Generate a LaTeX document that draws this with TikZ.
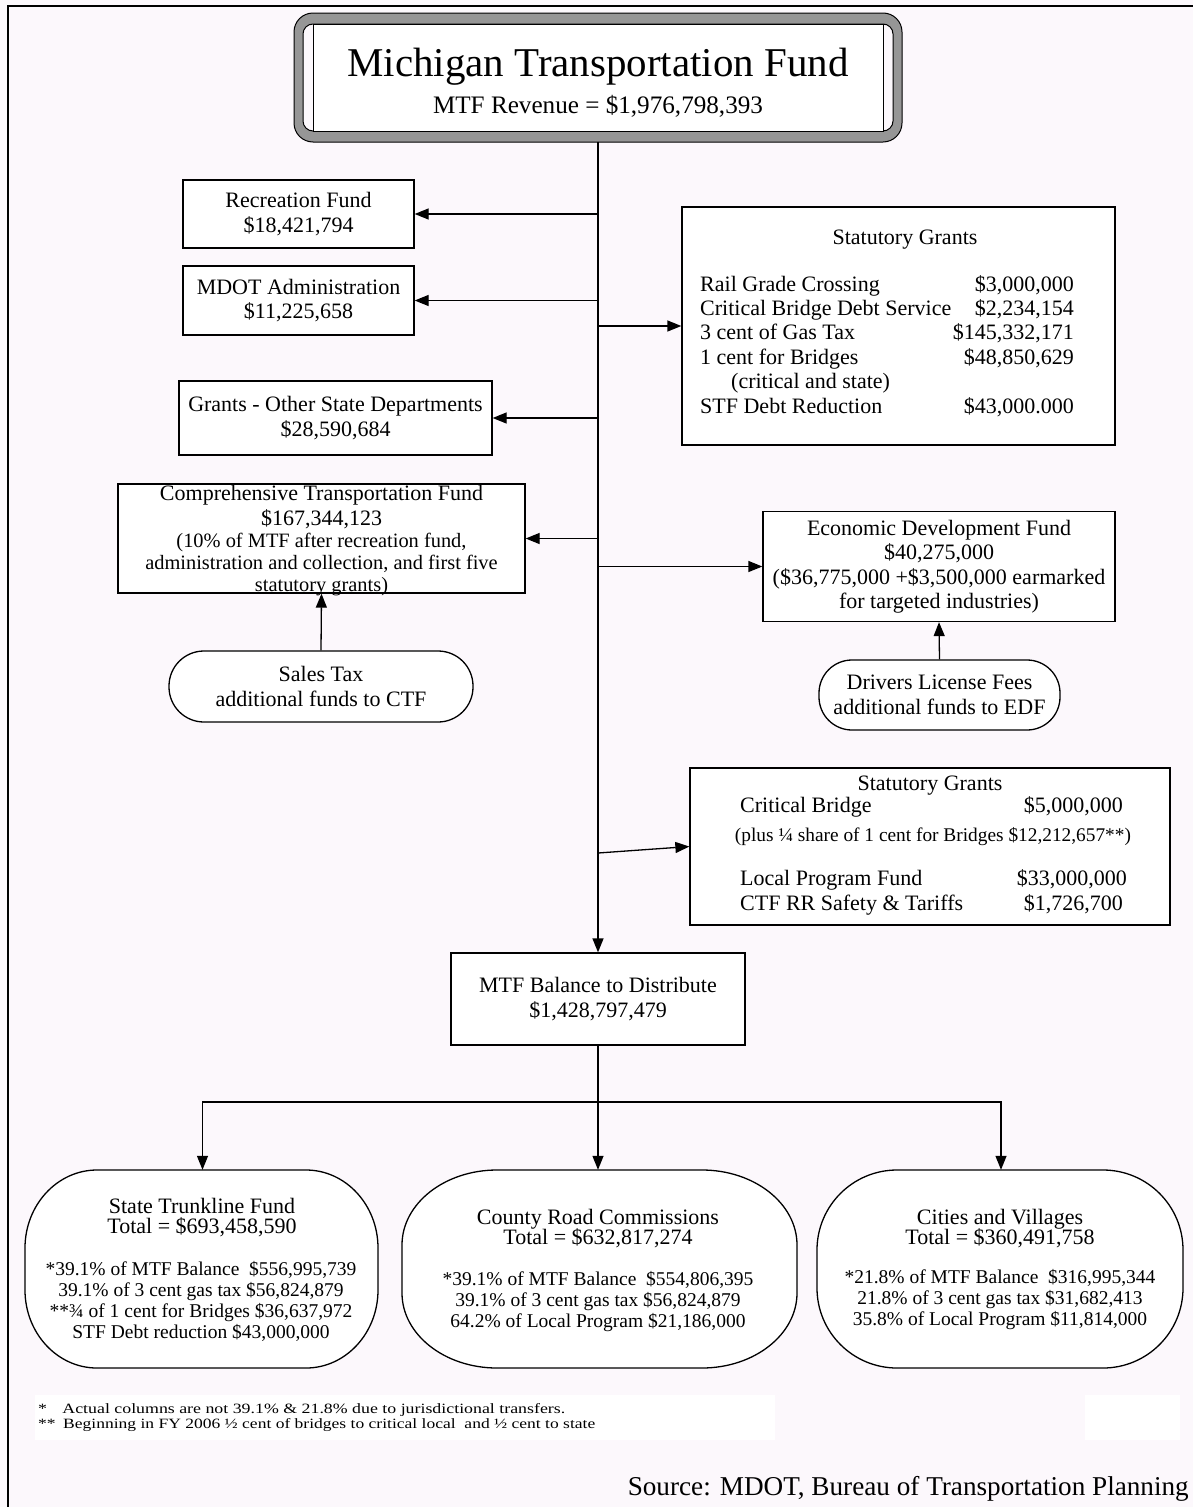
\documentclass[tikz,border=0pt]{standalone}
\usepackage{fontspec}
\setmainfont{Liberation Serif}
\usepackage{graphicx}
\usetikzlibrary{arrows.meta,calc}
\definecolor{bgc}{RGB}{252,248,252}
\definecolor{bandgray}{RGB}{150,150,150}
\newcommand\mymain{\fontsize{22}{24.5}\selectfont}
\newcommand\mysmall{\fontsize{20.4}{22}\selectfont}
\newcommand\myplus{\fontsize{18}{18}\selectfont}
\newcommand\myovh{\fontsize{22}{20}\selectfont}
\newcommand\myovd{\fontsize{19.5}{21}\selectfont}
\newcommand\ovalshape[6]{%
 \draw[ovalline] (#1,{#2+#6}) .. controls (#1,{#2+0.448*#6}) and ({#1+0.448*#5},#2) .. ({#1+#5},#2)
  -- ({#3-#5},#2) .. controls ({#3-0.448*#5},#2) and (#3,{#2+0.448*#6}) .. (#3,{#2+#6})
  -- (#3,{#4-#6}) .. controls (#3,{#4-0.448*#6}) and ({#3-0.448*#5},#4) .. ({#3-#5},#4)
  -- ({#1+#5},#4) .. controls ({#1+0.448*#5},#4) and (#1,{#4-0.448*#6}) .. (#1,{#4-#6}) -- cycle;}
\begin{document}
\lineskiplimit=-100pt
\begin{tikzpicture}[x=1pt,y=-1pt,
  box/.style={draw=black, line width=1.3pt, fill=white, rectangle, inner sep=0pt, align=center, font=\mymain},
  pill/.style={box, rounded corners=#1},
  ghost/.style={rectangle, inner sep=0pt},
  txt/.style={inner sep=0pt, align=center, font=\mymain},
  ovalline/.style={draw=black, line width=1.3pt, fill=white},
  conn/.style={line width=1.3pt},
  arr/.style={line width=1.3pt, -{Triangle[length=14pt,width=11pt]}}]
\fill[bgc] (0,0) rectangle (1193,1507);
\useasboundingbox (0,0) rectangle (1193,1507);
% outer frame
\draw[line width=1.5pt] (8,1507) -- (8,6) -- (1193,6);
% faint white patches behind footnotes
\fill[white] (35,1395) rectangle (775,1440);
\fill[white] (1085,1395) rectangle (1180,1440);

% title frame
\node[ghost, minimum width=608pt, minimum height=129pt] (title) at (598,77.5) {};
\path[draw=black, fill=bandgray, even odd rule, line width=1pt]
  [rounded corners=19pt] (294,13) rectangle (902,142)
  [rounded corners=10pt] (303,24) rectangle (893,131);
\draw[line width=1pt, fill=white] (313,24) rectangle (883,131);
\node[txt] (titlet) at (598,67) {\resizebox{501pt}{!}{\fontsize{40}{40}\selectfont Michigan Transportation Fund}};
\node[txt] (titler) at (598,106) {\resizebox{330pt}{!}{\fontsize{24.5}{26}\selectfont MTF Revenue = \$1,976,798,393}};

% left boxes
\node[box, minimum width=231pt, minimum height=68pt] (rec) at (298.5,214) {Recreation Fund\\\$18,421,794};
\node[box, minimum width=231pt, minimum height=69pt] (mdot) at (298.5,300.5) {MDOT Administration\\\$11,225,658};
\node[box, minimum width=313pt, minimum height=74pt] (gosd) at (335.5,418) {Grants - Other State Departments\\\$28,590,684};
\node[box, minimum width=407pt, minimum height=109pt] (ctf) at (321.5,538.5) {};
\node[txt] (ctft1) at (321.5,507) {Comprehensive Transportation Fund\\\$167,344,123};
\node[txt, font=\mysmall] (ctft2) at (321.5,565) {(10\% of MTF after recreation fund,\\administration and collection, and first five\\statutory grants)};
\node[pill=35pt, minimum width=304pt, minimum height=71pt] (sales) at (321,686.5) {Sales Tax\\additional funds to CTF};

% statutory grants 1
\node[box, minimum width=433pt, minimum height=238pt] (sg1) at (898.5,326) {};
\node[txt] (sg1h) at (905,240) {Statutory Grants};
\node[txt, anchor=mid west] (sg1a) at (700,289) {Rail Grade Crossing};
\node[txt, anchor=mid east] (sg1av) at (1074,289) {\$3,000,000};
\node[txt, anchor=mid west] (sg1b) at (700,313) {Critical Bridge Debt Service};
\node[txt, anchor=mid east] (sg1bv) at (1074,313) {\$2,234,154};
\node[txt, anchor=mid west] (sg1c) at (700,337.5) {3 cent of Gas Tax};
\node[txt, anchor=mid east] (sg1cv) at (1074,337.5) {\$145,332,171};
\node[txt, anchor=mid west] (sg1d) at (700,362) {1 cent for Bridges};
\node[txt, anchor=mid east] (sg1dv) at (1074,362) {\$48,850,629};
\node[txt, anchor=mid west] (sg1e) at (731,386) {(critical and state)};
\node[txt, anchor=mid west] (sg1f) at (700,411) {STF Debt Reduction};
\node[txt, anchor=mid east] (sg1fv) at (1074,411) {\$43,000.000};

% EDF
\node[box, minimum width=352pt, minimum height=110pt] (edf) at (939,566.5) {Economic Development Fund\\\$40,275,000\\(\$36,775,000 +\$3,500,000 earmarked\\for targeted industries)};
\node[pill=33pt, minimum width=241pt, minimum height=70pt] (dlf) at (939.5,695) {Drivers License Fees\\additional funds to EDF};

% statutory grants 2
\node[box, minimum width=480pt, minimum height=157pt] (sg2) at (930,846.5) {};
\node[txt] (sg2h) at (930,786) {Statutory Grants};
\node[txt, anchor=mid west] (sg2a) at (740,810) {Critical Bridge};
\node[txt, anchor=mid east] (sg2av) at (1123,810) {\$5,000,000};
\node[txt] (sg2p) at (933,837) {\resizebox{396pt}{!}{\myplus (plus ¼ share of 1 cent for Bridges \$12,212,657**)}};
\node[txt, anchor=mid west] (sg2b) at (740,883) {Local Program Fund};
\node[txt, anchor=mid east] (sg2bv) at (1127,883) {\$33,000,000};
\node[txt, anchor=mid west] (sg2c) at (740,908) {CTF RR Safety \& Tariffs};
\node[txt, anchor=mid east] (sg2cv) at (1123,908) {\$1,726,700};

% balance
\node[box, minimum width=294pt, minimum height=92pt] (bal) at (598,999) {MTF Balance to Distribute\\\$1,428,797,479};

% ovals
\ovalshape{25}{1170}{378}{1368}{72}{78}
\ovalshape{402}{1170}{797}{1368}{95}{75}
\ovalshape{817}{1170}{1183}{1368}{80}{80}
\node[ghost, minimum width=353pt, minimum height=198pt] (stf) at (202.5,1269) {};
\node[ghost, minimum width=395pt, minimum height=198pt] (crc) at (598,1269) {};
\node[ghost, minimum width=366pt, minimum height=198pt] (cav) at (1001,1269) {};
\node[txt, font=\myovh] (stfh) at (202,1218) {State Trunkline Fund\\Total = \$693,458,590};
\node[txt, font=\myovd] (stfd) at (201,1301) {*39.1\% of MTF Balance\ \ \$556,995,739\\39.1\% of 3 cent gas tax \$56,824,879\\**¾ of 1 cent for Bridges \$36,637,972\\STF Debt reduction \$43,000,000};
\node[txt, font=\myovh] (crch) at (598,1228.5) {County Road Commissions\\Total = \$632,817,274};
\node[txt, font=\myovd] (crcd) at (598,1301.5) {*39.1\% of MTF Balance\ \ \$554,806,395\\39.1\% of 3 cent gas tax \$56,824,879\\64.2\% of Local Program \$21,186,000};
\node[txt, font=\myovh] (cavh) at (1000,1229) {Cities and Villages\\Total = \$360,491,758};
\node[txt, font=\myovd] (cavd) at (1000,1300) {*21.8\% of MTF Balance\ \ \$316,995,344\\21.8\% of 3 cent gas tax \$31,682,413\\35.8\% of Local Program \$11,814,000};

% connectors
\draw[arr] (title.south) -- (bal.north);
\draw[arr] (title.south |- rec.east) -- (rec.east);
\draw[arr] (title.south |- mdot.east) -- (mdot.east);
\draw[arr] (title.south |- sg1.west) -- (sg1.west);
\draw[arr] (title.south |- gosd.east) -- (gosd.east);
\draw[arr] (title.south |- ctf.east) -- (ctf.east);
\draw[arr] (title.south |- edf.west) -- (edf.west);
\coordinate (sg2src) at (598,853);
\draw[arr] (sg2src) -- (sg2.west);
\draw[arr] (sales.north) -- (ctf.south);
\draw[arr] (dlf.north) -- (edf.south);
\coordinate (split) at (598,1102);
\draw[conn] (bal.south) -- (split);
\draw[arr] (split) -| (stf.north);
\draw[arr] (split) -- (crc.north);
\draw[arr] (split) -| (cav.north);

% footnotes and source
\node[anchor=mid west, inner sep=0pt] (fn1) at (38,1411) {\resizebox{527pt}{10pt}{\fontsize{14}{15}\selectfont *\hspace{12pt}Actual columns are not 39.1\% \& 21.8\% due to jurisdictional transfers.}};
\node[anchor=mid west, inner sep=0pt] (fn2) at (38,1426) {\resizebox{557pt}{10pt}{\fontsize{14}{15}\selectfont **\hspace{6pt}Beginning in FY 2006 ½ cent of bridges to critical local\ \ and ½ cent to state}};
\node[anchor=mid east, inner sep=0pt] (src) at (1189,1493) {\resizebox{561pt}{!}{\fontsize{25}{28}\selectfont Source: MDOT, Bureau of Transportation Planning}};
\end{tikzpicture}
\end{document}
